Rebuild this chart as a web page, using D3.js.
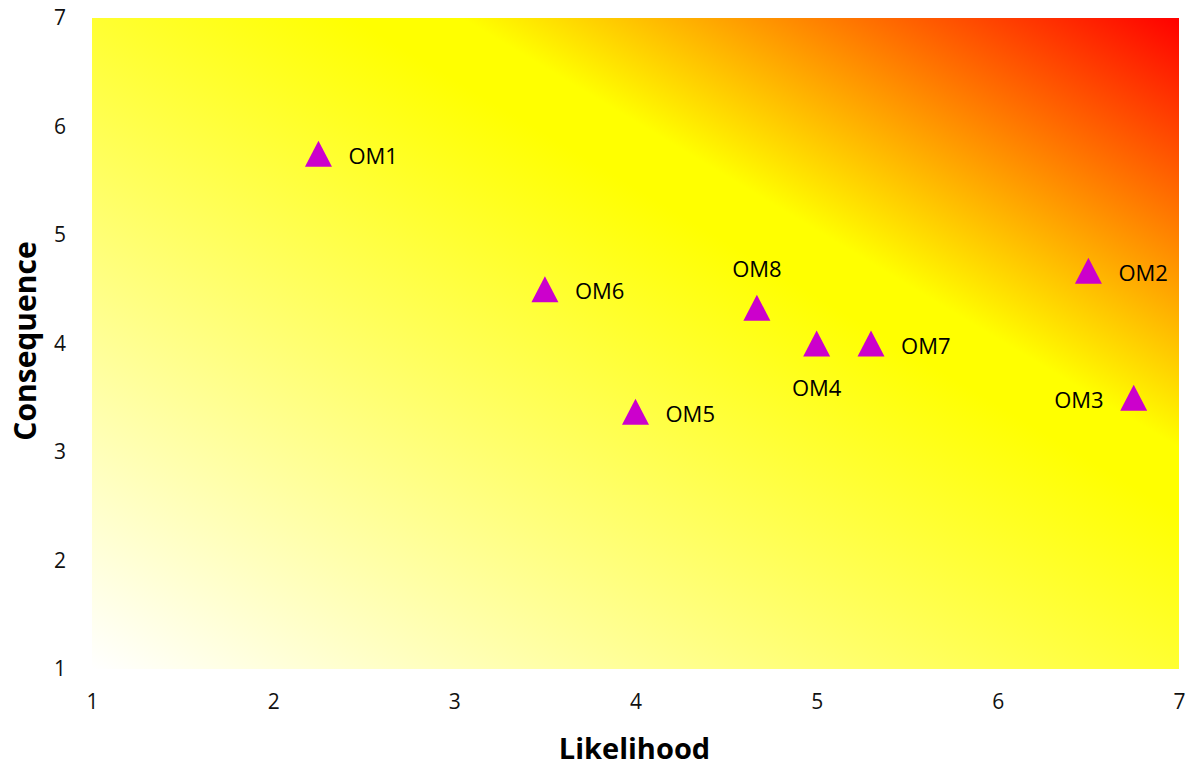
<!DOCTYPE html>
<html><head><meta charset="utf-8">
<script src="https://cdn.jsdelivr.net/npm/d3@7"></script>
<style>html,body{margin:0;padding:0;background:#fff;}svg{display:block;}</style>
</head><body>
<svg id="chart" width="1191" height="767"></svg>
<script>
const labels = ["OM1","OM2","OM3","OM4","OM5","OM6","OM7","OM8"];
const likelihood = [2.25, 6.5, 6.75, 5.0, 4.0, 3.5, 5.3, 4.67];
const consequence = [5.75, 4.67, 3.5, 4.0, 3.37, 4.5, 4.0, 4.33];
const labelPos = ["right","right","left","below","right","right","right","above"];
const xTicks = [1,2,3,4,5,6,7];
const yTicks = [1,2,3,4,5,6,7];
const xTitle = "Likelihood";
const yTitle = "Consequence";

const svg = d3.select("#chart");
const m = {left: 92, top: 18, right: 12, bottom: 98};
const W = 1191 - m.left - m.right, H = 767 - m.top - m.bottom;
const x = d3.scaleLinear().domain([1,7]).range([0, W]);
const y = d3.scaleLinear().domain([1,7]).range([H, 0]);
const font = "'Open Sans', sans-serif";

const defs = svg.append("defs");
const grad = defs.append("linearGradient").attr("id","bg")
  .attr("x1",0).attr("y1",1).attr("x2",1).attr("y2",0);
grad.append("stop").attr("offset",0).attr("stop-color","#ffffff");
grad.append("stop").attr("offset",0.62).attr("stop-color","#ffff00");
grad.append("stop").attr("offset",0.67).attr("stop-color","#ffff00");
grad.append("stop").attr("offset",1).attr("stop-color","#ff0000");

const g = svg.append("g").attr("transform",`translate(${m.left},${m.top})`);
g.append("rect").attr("x",0).attr("y",0).attr("width",W).attr("height",H).attr("fill","url(#bg)");

const xAxis = g.append("g").attr("transform",`translate(0,${H})`)
  .call(d3.axisBottom(x).tickValues(xTicks).tickFormat(d3.format("d")).tickSize(0).tickPadding(25));
const yAxis = g.append("g")
  .call(d3.axisLeft(y).tickValues(yTicks).tickFormat(d3.format("d")).tickSize(0).tickPadding(25));
[xAxis,yAxis].forEach(a=>{
  a.select(".domain").remove();
  a.selectAll("text").attr("font-family",font).attr("font-size",21).attr("fill","#111");
});
yAxis.selectAll("text").attr("text-anchor","middle").attr("dx",-7);

const pts = labels.map((l,i)=>({l, x: likelihood[i], y: consequence[i], p: labelPos[i]}));
const tri = "M0,-13 L13.5,13 L-13.5,13 Z";
g.selectAll("path.pt").data(pts).enter().append("path").attr("class","pt")
  .attr("d",tri).attr("fill","#cc00cc")
  .attr("transform",d=>`translate(${x(d.x)},${y(d.y)})`);

g.selectAll("text.lbl").data(pts).enter().append("text").attr("class","lbl")
  .attr("font-family",font).attr("font-size",22).attr("fill","#000")
  .attr("dominant-baseline","central")
  .attr("x",d=> d.p==="right" ? x(d.x)+30 : d.p==="left" ? x(d.x)-30 : x(d.x))
  .attr("y",d=> d.p==="above" ? y(d.y)-40 : d.p==="below" ? y(d.y)+43 : y(d.y)+1)
  .attr("text-anchor",d=> d.p==="right" ? "start" : d.p==="left" ? "end" : "middle")
  .text(d=>d.l);

svg.append("text").attr("x", m.left + W/2 - 1).attr("y", 759)
  .attr("text-anchor","middle").attr("font-family",font).attr("font-weight","bold")
  .attr("font-size",29).attr("fill","#000").text(xTitle);
svg.append("text").attr("transform",`translate(36,${341}) rotate(-90)`)
  .attr("text-anchor","middle").attr("font-family",font).attr("font-weight","bold")
  .attr("font-size",30).attr("fill","#000").text(yTitle);
</script>
</body></html>
